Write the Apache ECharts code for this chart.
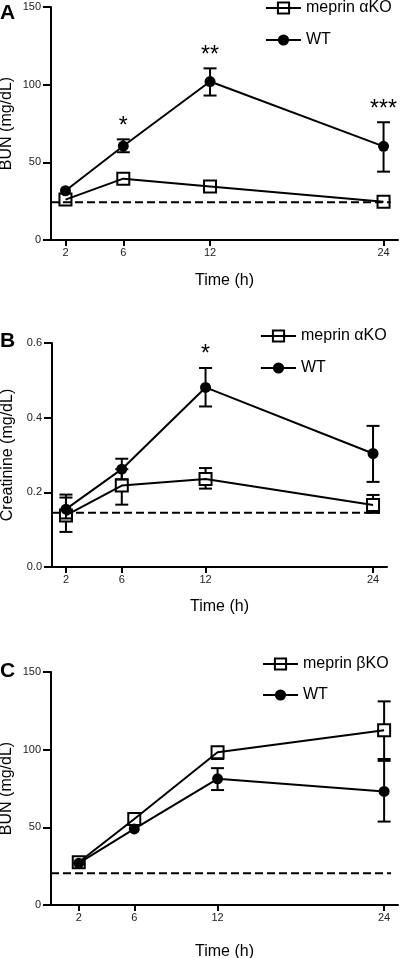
<!DOCTYPE html>
<html><head><meta charset="utf-8">
<script src="https://cdn.jsdelivr.net/npm/echarts@6/dist/echarts.min.js"></script>
<style>html,body{margin:0;padding:0;background:#fff}#c{width:400px;height:958px}</style>
</head><body><div id="c"></div>
<script>
// ---- data ----
const times = [2, 6, 12, 24];
const xTickValues = [2, 6, 12, 24];

// Panel A: BUN, meprin alpha KO vs WT
const koA = [26, 39.5, 34.5, 24.7];
const koA_lo = [null, null, null, null];
const koA_hi = [null, null, null, null];
const wtA = [31.7, 60.5, 102, 60.3];
const wtA_lo = [null, 56.5, 93, 44];
const wtA_hi = [null, 64.8, 110.5, 75.8];
const baseA = 24.3;
const sigA = ['', '*', '**', '***'];

// Panel B: Creatinine, meprin alpha KO vs WT
const koB = [0.138, 0.218, 0.236, 0.166];
const koB_lo = [0.094, 0.167, 0.21, 0.145];
const koB_hi = [0.186, 0.262, 0.265, 0.193];
const wtB = [0.155, 0.262, 0.481, 0.304];
const wtB_lo = [0.13, 0.235, 0.43, 0.228];
const wtB_hi = [0.194, 0.290, 0.533, 0.378];
const baseB = 0.145;
const sigB = ['', '', '*', ''];

// Panel C: BUN, meprin beta KO vs WT
const koC = [27.5, 55.4, 98.3, 112.5];
const koC_lo = [null, null, 94, 94];
const koC_hi = [null, null, 102, 131.1];
const wtC = [26.9, 49, 81.2, 73.1];
const wtC_lo = [null, null, 74, 53.7];
const wtC_hi = [null, null, 88.1, 92.8];
const baseC = 20.4;
const sigC = ['', '', '', ''];

const koNames = ['meprin \u03b1KO', 'meprin \u03b1KO', 'meprin \u03b2KO'];
const yNames = ['BUN (mg/dL)', 'Creatinine (mg/dL)', 'BUN (mg/dL)'];
const letters = ['A', 'B', 'C'];

// ---- layout ----
const FONT = 'Liberation Sans, Arial, sans-serif';
const grids = [
  {left: 51, top: 7, width: 347, height: 233, outerBoundsMode: 'none', containLabel: false},
  {left: 52, top: 343, width: 335, height: 224, outerBoundsMode: 'none', containLabel: false},
  {left: 51, top: 672, width: 347, height: 233, outerBoundsMode: 'none', containLabel: false}
];
const xRanges = [[1, 25], [1, 25], [0, 25]];
const yRanges = [[0, 150, 50], [0, 0.6, 0.2], [0, 150, 50]];
const xNameGaps = [33, 32, 39];
const legendPos = [{left: 265, top: 0, gap: 30}, {left: 260, top: 328, gap: 30}, {left: 262, top: 656, gap: 29}];
const letterTops = [3, 331, 661];

const panels = [
  {ko: koA, koLo: koA_lo, koHi: koA_hi, wt: wtA, wtLo: wtA_lo, wtHi: wtA_hi, base: baseA, sig: sigA},
  {ko: koB, koLo: koB_lo, koHi: koB_hi, wt: wtB, wtLo: wtB_lo, wtHi: wtB_hi, base: baseB, sig: sigB},
  {ko: koC, koLo: koC_lo, koHi: koC_hi, wt: wtC, wtLo: wtC_lo, wtHi: wtC_hi, base: baseC, sig: sigC}
];

const axisLineStyle = {color: '#000', width: 2};
const xAxes = [], yAxes = [], series = [], legends = [], graphics = [];
const nameMap = {};

function errSeries(i, vals, lo, hi, half) {
  return {
    type: 'custom', xAxisIndex: i, yAxisIndex: i, z: 1, silent: true,
    data: times.map((t, j) => [t, vals[j], lo[j] == null ? vals[j] : lo[j], hi[j] == null ? vals[j] : hi[j]]),
    renderItem: function (params, api) {
      const x = api.value(0);
      const p = api.coord([x, api.value(1)]);
      const pl = api.coord([x, api.value(2)]);
      const ph = api.coord([x, api.value(3)]);
      const children = [];
      const st = {stroke: '#000', lineWidth: 2};
      const cap = 6.5;
      if (ph[1] < p[1] - half) {
        children.push({type: 'line', shape: {x1: p[0], y1: ph[1], x2: p[0], y2: p[1] - half}, style: st});
        children.push({type: 'line', shape: {x1: p[0] - cap, y1: ph[1], x2: p[0] + cap, y2: ph[1]}, style: st});
      }
      if (pl[1] > p[1] + half) {
        children.push({type: 'line', shape: {x1: p[0], y1: p[1] + half, x2: p[0], y2: pl[1]}, style: st});
        children.push({type: 'line', shape: {x1: p[0] - cap, y1: pl[1], x2: p[0] + cap, y2: pl[1]}, style: st});
      }
      return {type: 'group', children: children};
    }
  };
}

panels.forEach((P, i) => {
  xAxes.push({
    type: 'value', gridIndex: i, min: xRanges[i][0], max: xRanges[i][1],
    name: 'Time (h)', nameLocation: 'middle', nameGap: xNameGaps[i], nameMoveOverlap: false,
    nameTextStyle: {fontSize: 16, color: '#000', fontFamily: FONT},
    axisLine: {lineStyle: axisLineStyle},
    axisTick: {show: true, length: 6, customValues: xTickValues, lineStyle: {color: '#000', width: 2}},
    axisLabel: {customValues: xTickValues, fontSize: 11, color: '#222', margin: 7, fontFamily: FONT},
    splitLine: {show: false}
  });
  yAxes.push({
    type: 'value', gridIndex: i, min: yRanges[i][0], max: yRanges[i][1], interval: yRanges[i][2],
    name: yNames[i], nameLocation: 'middle', nameGap: 36, nameMoveOverlap: false,
    nameTextStyle: {fontSize: 16, color: '#000', fontFamily: FONT},
    axisLine: {show: true, lineStyle: axisLineStyle},
    axisTick: {show: true, length: 8, lineStyle: {color: '#000', width: 2}},
    axisLabel: {fontSize: 11, color: '#222', margin: 10, fontFamily: FONT,
      formatter: i === 1 ? (v => v.toFixed(1)) : (v => String(v))},
    splitLine: {show: false}
  });
  const koName = 'ko' + i, wtName = 'wt' + i;
  nameMap[koName] = koNames[i];
  nameMap[wtName] = 'WT';
  // dashed baseline
  series.push({
    type: 'line', xAxisIndex: i, yAxisIndex: i, symbol: 'none', silent: true, z: 1,
    data: [[xRanges[i][0], P.base], [24.5, P.base]],
    lineStyle: {color: '#000', width: 2, type: [8, 4]}
  });
  series.push(errSeries(i, P.ko, P.koLo, P.koHi, 6));
  series.push(errSeries(i, P.wt, P.wtLo, P.wtHi, 5));
  series.push({
    name: koName, type: 'line', xAxisIndex: i, yAxisIndex: i, z: 3,
    data: times.map((t, j) => [t, P.ko[j]]),
    symbol: 'rect', symbolSize: 12,
    itemStyle: {color: 'rgba(255,255,255,0)', borderColor: '#000', borderWidth: 2},
    lineStyle: {color: '#000', width: 2}
  });
  series.push({
    name: wtName, type: 'line', xAxisIndex: i, yAxisIndex: i, z: 3,
    data: times.map((t, j) => [t, P.wt[j]]),
    symbol: 'circle', symbolSize: 11,
    itemStyle: {color: '#000'},
    lineStyle: {color: '#000', width: 2}
  });
  // significance stars
  series.push({
    type: 'custom', xAxisIndex: i, yAxisIndex: i, silent: true, z: 4,
    data: times.map((t, j) => [t, P.wtHi[j] == null ? P.wt[j] : P.wtHi[j]]),
    renderItem: function (params, api) {
      const s = P.sig[params.dataIndex];
      if (!s) return null;
      const c = api.coord([api.value(0), api.value(1)]);
      return {type: 'text', style: {text: s, x: c[0], y: c[1] - 13, align: 'center', verticalAlign: 'middle',
        fontSize: 23, fill: '#000', fontFamily: FONT}};
    }
  });
  legends.push({
    orient: 'vertical', left: legendPos[i].left, top: legendPos[i].top, padding: 0,
    itemWidth: 35, itemHeight: 14, itemGap: legendPos[i].gap - 14,
    data: [koName, wtName],
    formatter: n => nameMap[n],
    textStyle: {fontSize: 16, color: '#000', fontFamily: FONT},
    selectedMode: false
  });
  graphics.push({
    type: 'text', left: 0, top: letterTops[i],
    style: {text: letters[i], fontSize: 21, fontWeight: 'bold', fill: '#000', fontFamily: FONT}
  });
});

const chart = echarts.init(document.getElementById('c'), null, {renderer: 'canvas'});
chart.setOption({
  animation: false,
  backgroundColor: '#fff',
  textStyle: {fontFamily: FONT},
  grid: grids,
  xAxis: xAxes,
  yAxis: yAxes,
  legend: legends,
  series: series,
  graphic: graphics
});
</script>
</body></html>
